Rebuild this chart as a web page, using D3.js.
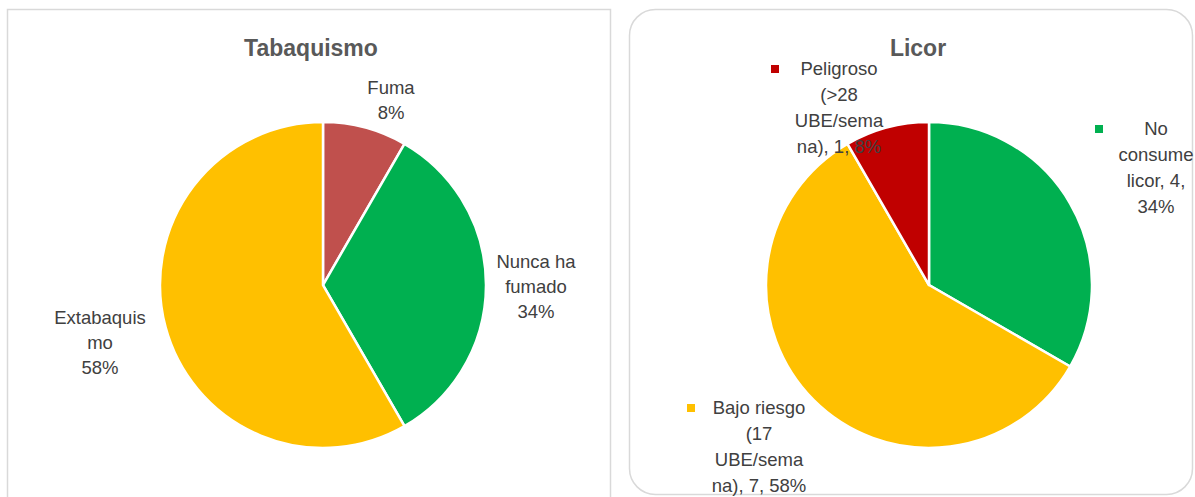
<!DOCTYPE html>
<html>
<head>
<meta charset="utf-8">
<script src="https://cdn.jsdelivr.net/npm/d3@7"></script>
<style>
  body { margin: 0; background: #fff; }
  svg { display: block; font-family: "Liberation Sans", Arial, sans-serif; }
</style>
</head>
<body>
<div id="chart"></div>
<script>
// tabaquismo data
const tabacoCats = ["Fuma", "Nunca ha fumado", "Extabaquismo"];
const tabacoValues = [1, 4, 7];
const tabacoPct = ["8%", "34%", "58%"];
const tabacoColors = ["#C0504D", "#00B050", "#FFC000"];

// licor data
const licorCats = ["No consume licor", "Bajo riesgo (17 UBE/semana)", "Peligroso (>28 UBE/semana)"];
const licorValues = [4, 7, 1];
const licorPct = ["34%", "58%", "8%"];
const licorColors = ["#00B050", "#FFC000", "#C00000"];

// label text as Excel wrapped it
const tabacoLines = [["Fuma", tabacoPct[0]], ["Nunca ha", "fumado", tabacoPct[1]], ["Extabaquis", "mo", tabacoPct[2]]];
const licorLines = [
  ["No", "consume", "licor, " + licorValues[0] + ",", licorPct[0]],
  ["Bajo riesgo", "(17", "UBE/sema", "na), " + licorValues[1] + ", " + licorPct[1]],
  ["Peligroso", "(>28", "UBE/sema", "na), " + licorValues[2] + ", " + licorPct[2]]
];

const width = 1195, height = 497;
const svg = d3.select("#chart").append("svg")
  .attr("width", width)
  .attr("height", height);

// panel frames
svg.append("rect")
  .attr("x", 7.5).attr("y", 9.5)
  .attr("width", 603).attr("height", 520)
  .attr("fill", "none").attr("stroke", "#d9d9d9").attr("stroke-width", 1.5);

svg.append("rect")
  .attr("x", 629.5).attr("y", 9.5)
  .attr("width", 563).attr("height", 485)
  .attr("rx", 26).attr("ry", 26)
  .attr("fill", "none").attr("stroke", "#d9d9d9").attr("stroke-width", 1.5);

const pie = d3.pie().sort(null).value(d => d);
const radius = 163;
const arc = d3.arc().innerRadius(0).outerRadius(radius);

function drawPie(cfg) {
  const g = svg.append("g")
    .attr("transform", `translate(${cfg.cx},${cfg.cy})`);

  g.selectAll("path")
    .data(pie(cfg.values))
    .enter()
    .append("path")
    .attr("d", arc)
    .attr("fill", (d, i) => cfg.colors[i])
    .attr("stroke", "#fff")
    .attr("stroke-width", 2.5)
    .attr("stroke-linejoin", "round");

  svg.append("text")
    .attr("x", cfg.titleX)
    .attr("y", 56)
    .attr("text-anchor", "middle")
    .attr("font-size", "23px")
    .attr("font-weight", "bold")
    .attr("fill", "#595959")
    .text(cfg.title);

  cfg.lines.forEach((lines, i) => {
    const pos = cfg.labelPos[i];
    const t = g.append("text")
      .attr("text-anchor", "middle")
      .attr("font-size", "18.5px")
      .attr("fill", "#404040");
    lines.forEach((line, j) => {
      t.append("tspan")
        .attr("x", pos.dx)
        .attr("y", pos.dy + j * cfg.lineStep)
        .attr("dy", "0.35em")
        .text(line);
    });
    if (cfg.markers) {
      g.append("rect")
        .attr("x", pos.mx - 4)
        .attr("y", pos.dy - 4)
        .attr("width", 8)
        .attr("height", 8)
        .attr("fill", cfg.colors[i]);
    }
  });
}

drawPie({
  title: "Tabaquismo",
  titleX: 311,
  cx: 323, cy: 285,
  values: tabacoValues,
  colors: tabacoColors,
  lines: tabacoLines,
  lineStep: 25,
  labelPos: [
    { dx: 68, dy: -197 },
    { dx: 213, dy: -23 },
    { dx: -223, dy: 33 }
  ],
  markers: false
});

drawPie({
  title: "Licor",
  titleX: 918,
  cx: 929, cy: 285,
  values: licorValues,
  colors: licorColors,
  lines: licorLines,
  lineStep: 26,
  labelPos: [
    { dx: 227, dy: -156, mx: 170 },
    { dx: -170, dy: 123, mx: -238 },
    { dx: -90, dy: -216, mx: -154 }
  ],
  markers: true
});
</script>
</body>
</html>
